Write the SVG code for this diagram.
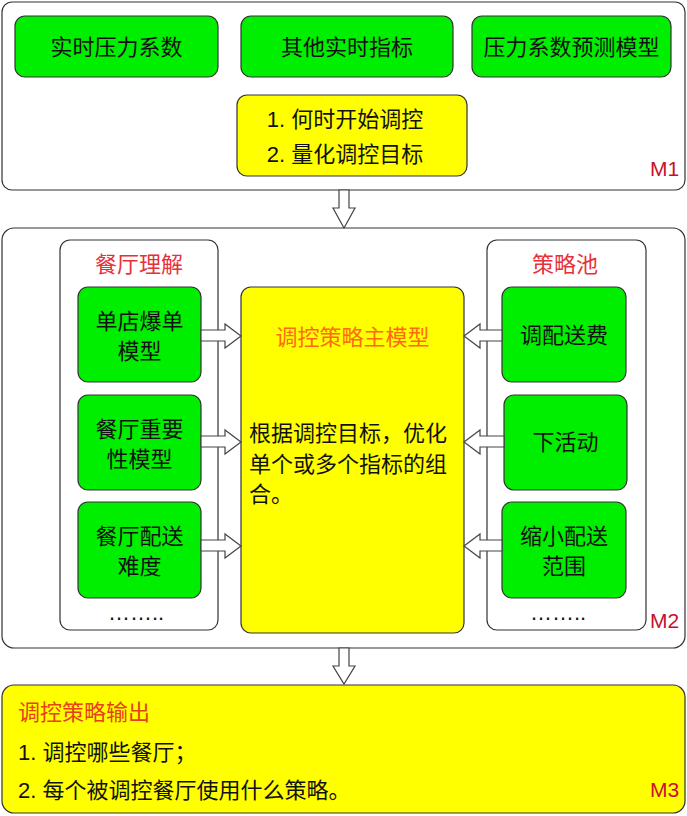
<svg xmlns="http://www.w3.org/2000/svg" width="687" height="816" viewBox="0 0 687 816">
<defs>
<style>
.panel{fill:#fff;stroke:#333;stroke-width:1.2}
.green{fill:#00ee00;stroke:#333;stroke-width:1.2}
.yellow{fill:#ffff00;stroke:#333;stroke-width:1.2}
.arr{fill:#fff;stroke:#444;stroke-width:1.2;stroke-linejoin:miter}
text{font-family:"Liberation Sans","Noto Sans CJK SC",sans-serif;font-size:22px;fill:#111}
.c{text-anchor:middle}
.red{fill:#e8303a}
.orange{fill:#ff6a10}
.m{fill:#c8102e;font-size:21px}
</style>
</defs>
<rect width="687" height="816" fill="#fff"/>
<g id="M1">
<rect class="panel" x="2" y="2" width="683" height="188" rx="10"/>
<text class="m" x="650" y="176">M1</text>
</g>
<g id="n_realtime"><rect class="green" x="15" y="16" width="203" height="61" rx="10"/><text class="c" x="116.5" y="55">实时压力系数</text></g>
<g id="n_other"><rect class="green" x="241" y="16" width="212" height="61" rx="10"/><text class="c" x="347" y="55">其他实时指标</text></g>
<g id="n_predict"><rect class="green" x="472" y="16" width="199" height="61" rx="10"/><text class="c" x="571.5" y="55">压力系数预测模型</text></g>
<g id="n_goal"><rect class="yellow" x="237" y="95" width="230" height="81" rx="10"/><text class="c" x="345" y="127">1. 何时开始调控</text><text class="c" x="345" y="162">2. 量化调控目标</text></g>
<g id="M2">
<rect class="panel" x="2" y="228" width="683" height="420" rx="12"/>
<text class="m" x="650" y="628">M2</text>
</g>
<g id="left_panel">
<rect class="panel" x="60" y="240" width="158" height="390" rx="10"/>
<text class="c red" x="139" y="272">餐厅理解</text>
<text class="c" x="136" y="620">……..</text>
</g>
<g id="n_l1"><rect class="green" x="78" y="287" width="123" height="95" rx="10"/><text class="c" x="139.5" y="329">单店爆单</text><text class="c" x="139.5" y="359">模型</text></g>
<g id="n_l2"><rect class="green" x="78" y="395" width="123" height="95" rx="10"/><text class="c" x="139.5" y="437">餐厅重要</text><text class="c" x="139.5" y="467">性模型</text></g>
<g id="n_l3"><rect class="green" x="78" y="502" width="123" height="96" rx="10"/><text class="c" x="139.5" y="544">餐厅配送</text><text class="c" x="139.5" y="574">难度</text></g>
<g id="n_main"><rect class="yellow" x="241" y="287" width="223" height="346" rx="10"/>
<text class="c orange" x="352.5" y="345">调控策略主模型</text>
<text x="249" y="441">根据调控目标，优化</text>
<text x="249" y="472">单个或多个指标的组</text>
<text x="249" y="502">合。</text>
</g>
<g id="right_panel">
<rect class="panel" x="487" y="240" width="159" height="390" rx="10"/>
<text class="c red" x="565" y="272">策略池</text>
<text class="c" x="558" y="620">……..</text>
</g>
<g id="n_r1"><rect class="green" x="502" y="287" width="124" height="95" rx="10"/><text class="c" x="564" y="343">调配送费</text></g>
<g id="n_r2"><rect class="green" x="504" y="395" width="123" height="95" rx="10"/><text class="c" x="565.5" y="450">下活动</text></g>
<g id="n_r3"><rect class="green" x="502" y="502" width="124" height="96" rx="10"/><text class="c" x="564" y="544">缩小配送</text><text class="c" x="564" y="574">范围</text></g>
<g id="M3">
<rect class="yellow" x="2" y="685" width="683" height="128" rx="12"/>
<text x="18" y="720" style="fill:#e8401a">调控策略输出</text>
<text x="18" y="760">1. 调控哪些餐厅；</text>
<text x="18" y="798">2. 每个被调控餐厅使用什么策略。</text>
<text class="m" x="650" y="797">M3</text>
</g>
<g id="connectors">
<polygon class="arr" points="339,190 349,190 349,208 355,208 344,228 333,208 339,208"/>
<polygon class="arr" points="339,648 349,648 349,666 355,666 344,684 333,666 339,666"/>
<polygon class="arr" points="201,330 225,330 225,324 241,336 225,348 225,341 201,341"/>
<polygon class="arr" points="201,436 225,436 225,430 241,442 225,454 225,447 201,447"/>
<polygon class="arr" points="201,540 225,540 225,534 241,546 225,558 225,551 201,551"/>
<polygon class="arr" points="502,330 480,330 480,324 464,336 480,348 480,341 502,341"/>
<polygon class="arr" points="504,436 480,436 480,430 464,442 480,454 480,447 504,447"/>
<polygon class="arr" points="502,540 480,540 480,534 464,546 480,558 480,551 502,551"/>
</g>
</svg>
